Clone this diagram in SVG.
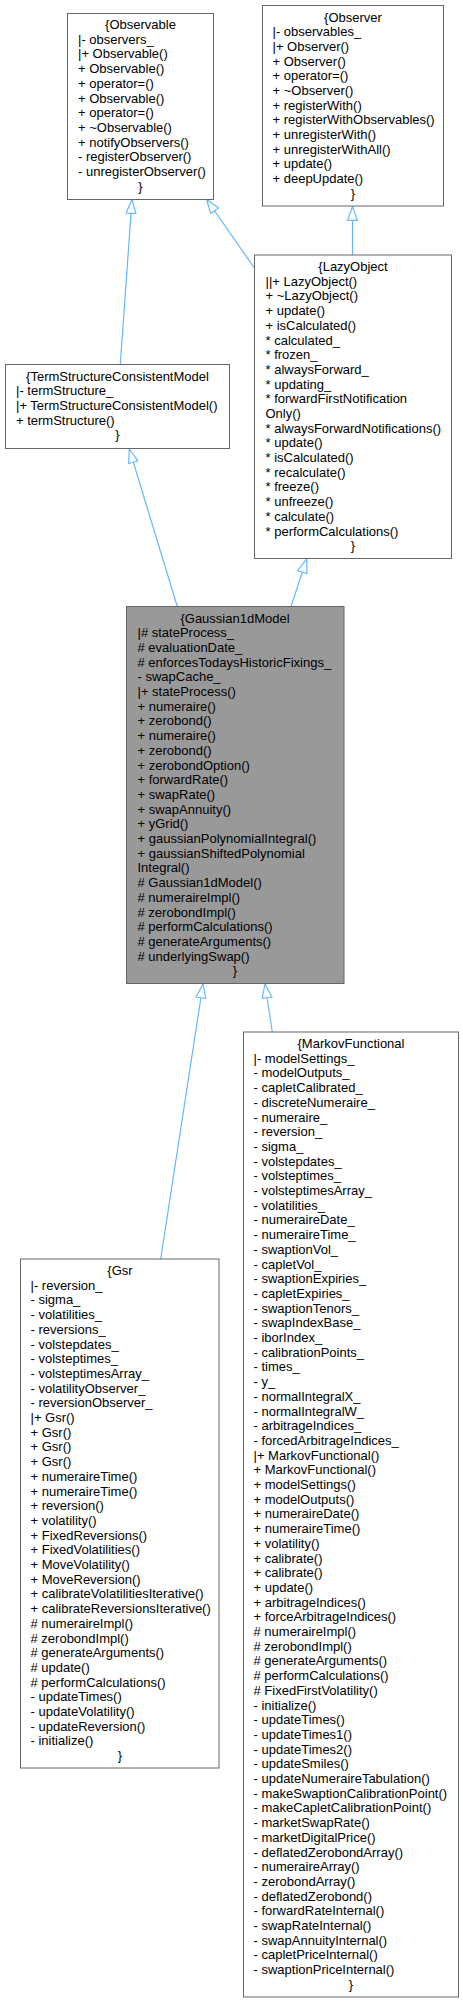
<svg xmlns="http://www.w3.org/2000/svg" width="463" height="2001" viewBox="0 0 463 2001">
<style>
.box{fill:#ffffff;stroke:#666666;stroke-width:1}
.grey{fill:#999999}
text{font-family:"Liberation Sans",Arial,sans-serif;font-size:13px;fill:#000000}
.c{text-anchor:middle}
.edge{stroke:#63B8FF;stroke-width:1.2;fill:none;marker-end:url(#inh)}
</style>
<defs>
<marker id="inh" markerUnits="userSpaceOnUse" markerWidth="16" markerHeight="12" refX="14.5" refY="5.5" orient="auto">
<path d="M0.6,0.6 L14.5,5.5 L0.6,10.4 Z" fill="#ffffff" stroke="#63B8FF" stroke-width="1.2"/>
</marker>
</defs>
<rect width="463" height="2001" fill="#ffffff"/>
<g id="edges">
<line class="edge" x1="120.3" y1="364.5" x2="132" y2="199.5"/>
<line class="edge" x1="254" y1="267.5" x2="206.7" y2="199.5"/>
<line class="edge" x1="352.5" y1="255" x2="352.5" y2="206.5"/>
<line class="edge" x1="177.3" y1="606.5" x2="129.3" y2="449"/>
<line class="edge" x1="291" y1="606.5" x2="306.7" y2="559"/>
<line class="edge" x1="160.7" y1="1259" x2="203" y2="984"/>
<line class="edge" x1="272.3" y1="1032" x2="265" y2="984"/>
</g>
<g id="Observable">
<rect class="box" x="67.5" y="13.5" width="146" height="186"/>
<text class="c" x="140.5" y="29">{Observable</text>
<text x="78" y="29"><tspan x="78" dy="14.7">|- observers_</tspan><tspan x="78" dy="14.7">|+ Observable()</tspan><tspan x="78" dy="14.7">+ Observable()</tspan><tspan x="78" dy="14.7">+ operator=()</tspan><tspan x="78" dy="14.7">+ Observable()</tspan><tspan x="78" dy="14.7">+ operator=()</tspan><tspan x="78" dy="14.7">+ ~Observable()</tspan><tspan x="78" dy="14.7">+ notifyObservers()</tspan><tspan x="78" dy="14.7">- registerObserver()</tspan><tspan x="78" dy="14.7">- unregisterObserver()</tspan></text>
<text class="c" x="140.5" y="190.7">}</text>
</g>
<g id="Observer">
<rect class="box" x="262.5" y="5.5" width="181" height="200.5"/>
<text class="c" x="353" y="21.5">{Observer</text>
<text x="272.5" y="21.5"><tspan x="272.5" dy="14.7">|- observables_</tspan><tspan x="272.5" dy="14.7">|+ Observer()</tspan><tspan x="272.5" dy="14.7">+ Observer()</tspan><tspan x="272.5" dy="14.7">+ operator=()</tspan><tspan x="272.5" dy="14.7">+ ~Observer()</tspan><tspan x="272.5" dy="14.7">+ registerWith()</tspan><tspan x="272.5" dy="14.7">+ registerWithObservables()</tspan><tspan x="272.5" dy="14.7">+ unregisterWith()</tspan><tspan x="272.5" dy="14.7">+ unregisterWithAll()</tspan><tspan x="272.5" dy="14.7">+ update()</tspan><tspan x="272.5" dy="14.7">+ deepUpdate()</tspan></text>
<text class="c" x="353" y="197.9">}</text>
</g>
<g id="TermStructureConsistentModel">
<rect class="box" x="5.5" y="364.5" width="224" height="84"/>
<text class="c" x="117.5" y="380.5">{TermStructureConsistentModel</text>
<text x="16" y="380.5"><tspan x="16" dy="14.7">|- termStructure_</tspan><tspan x="16" dy="14.7">|+ TermStructureConsistentModel()</tspan><tspan x="16" dy="14.7">+ termStructure()</tspan></text>
<text class="c" x="117.5" y="439.3">}</text>
</g>
<g id="LazyObject">
<rect class="box" x="254.5" y="255" width="197" height="303.5"/>
<text class="c" x="353" y="271">{LazyObject</text>
<text x="265.5" y="271"><tspan x="265.5" dy="14.7">||+ LazyObject()</tspan><tspan x="265.5" dy="14.7">+ ~LazyObject()</tspan><tspan x="265.5" dy="14.7">+ update()</tspan><tspan x="265.5" dy="14.7">+ isCalculated()</tspan><tspan x="265.5" dy="14.7">* calculated_</tspan><tspan x="265.5" dy="14.7">* frozen_</tspan><tspan x="265.5" dy="14.7">* alwaysForward_</tspan><tspan x="265.5" dy="14.7">* updating_</tspan><tspan x="265.5" dy="14.7">* forwardFirstNotification</tspan><tspan x="265.5" dy="14.7">Only()</tspan><tspan x="265.5" dy="14.7">* alwaysForwardNotifications()</tspan><tspan x="265.5" dy="14.7">* update()</tspan><tspan x="265.5" dy="14.7">* isCalculated()</tspan><tspan x="265.5" dy="14.7">* recalculate()</tspan><tspan x="265.5" dy="14.7">* freeze()</tspan><tspan x="265.5" dy="14.7">* unfreeze()</tspan><tspan x="265.5" dy="14.7">* calculate()</tspan><tspan x="265.5" dy="14.7">* performCalculations()</tspan></text>
<text class="c" x="353" y="550.3">}</text>
</g>
<g id="Gaussian1dModel">
<rect class="box grey" x="126.5" y="606.5" width="217.5" height="377"/>
<text class="c" x="235" y="622.5">{Gaussian1dModel</text>
<text x="137.5" y="622.5"><tspan x="137.5" dy="14.7">|# stateProcess_</tspan><tspan x="137.5" dy="14.7"># evaluationDate_</tspan><tspan x="137.5" dy="14.7"># enforcesTodaysHistoricFixings_</tspan><tspan x="137.5" dy="14.7">- swapCache_</tspan><tspan x="137.5" dy="14.7">|+ stateProcess()</tspan><tspan x="137.5" dy="14.7">+ numeraire()</tspan><tspan x="137.5" dy="14.7">+ zerobond()</tspan><tspan x="137.5" dy="14.7">+ numeraire()</tspan><tspan x="137.5" dy="14.7">+ zerobond()</tspan><tspan x="137.5" dy="14.7">+ zerobondOption()</tspan><tspan x="137.5" dy="14.7">+ forwardRate()</tspan><tspan x="137.5" dy="14.7">+ swapRate()</tspan><tspan x="137.5" dy="14.7">+ swapAnnuity()</tspan><tspan x="137.5" dy="14.7">+ yGrid()</tspan><tspan x="137.5" dy="14.7">+ gaussianPolynomialIntegral()</tspan><tspan x="137.5" dy="14.7">+ gaussianShiftedPolynomial</tspan><tspan x="137.5" dy="14.7">Integral()</tspan><tspan x="137.5" dy="14.7"># Gaussian1dModel()</tspan><tspan x="137.5" dy="14.7"># numeraireImpl()</tspan><tspan x="137.5" dy="14.7"># zerobondImpl()</tspan><tspan x="137.5" dy="14.7"># performCalculations()</tspan><tspan x="137.5" dy="14.7"># generateArguments()</tspan><tspan x="137.5" dy="14.7"># underlyingSwap()</tspan></text>
<text class="c" x="235" y="975.3">}</text>
</g>
<g id="Gsr">
<rect class="box" x="20.5" y="1259" width="198.5" height="509"/>
<text class="c" x="120" y="1275">{Gsr</text>
<text x="30.5" y="1275"><tspan x="30.5" dy="14.7">|- reversion_</tspan><tspan x="30.5" dy="14.7">- sigma_</tspan><tspan x="30.5" dy="14.7">- volatilities_</tspan><tspan x="30.5" dy="14.7">- reversions_</tspan><tspan x="30.5" dy="14.7">- volstepdates_</tspan><tspan x="30.5" dy="14.7">- volsteptimes_</tspan><tspan x="30.5" dy="14.7">- volsteptimesArray_</tspan><tspan x="30.5" dy="14.7">- volatilityObserver_</tspan><tspan x="30.5" dy="14.7">- reversionObserver_</tspan><tspan x="30.5" dy="14.7">|+ Gsr()</tspan><tspan x="30.5" dy="14.7">+ Gsr()</tspan><tspan x="30.5" dy="14.7">+ Gsr()</tspan><tspan x="30.5" dy="14.7">+ Gsr()</tspan><tspan x="30.5" dy="14.7">+ numeraireTime()</tspan><tspan x="30.5" dy="14.7">+ numeraireTime()</tspan><tspan x="30.5" dy="14.7">+ reversion()</tspan><tspan x="30.5" dy="14.7">+ volatility()</tspan><tspan x="30.5" dy="14.7">+ FixedReversions()</tspan><tspan x="30.5" dy="14.7">+ FixedVolatilities()</tspan><tspan x="30.5" dy="14.7">+ MoveVolatility()</tspan><tspan x="30.5" dy="14.7">+ MoveReversion()</tspan><tspan x="30.5" dy="14.7">+ calibrateVolatilitiesIterative()</tspan><tspan x="30.5" dy="14.7">+ calibrateReversionsIterative()</tspan><tspan x="30.5" dy="14.7"># numeraireImpl()</tspan><tspan x="30.5" dy="14.7"># zerobondImpl()</tspan><tspan x="30.5" dy="14.7"># generateArguments()</tspan><tspan x="30.5" dy="14.7"># update()</tspan><tspan x="30.5" dy="14.7"># performCalculations()</tspan><tspan x="30.5" dy="14.7">- updateTimes()</tspan><tspan x="30.5" dy="14.7">- updateVolatility()</tspan><tspan x="30.5" dy="14.7">- updateReversion()</tspan><tspan x="30.5" dy="14.7">- initialize()</tspan></text>
<text class="c" x="120" y="1760.1">}</text>
</g>
<g id="MarkovFunctional">
<rect class="box" x="243.5" y="1032" width="215" height="965"/>
<text class="c" x="351" y="1048">{MarkovFunctional</text>
<text x="253.5" y="1048"><tspan x="253.5" dy="14.7">|- modelSettings_</tspan><tspan x="253.5" dy="14.7">- modelOutputs_</tspan><tspan x="253.5" dy="14.7">- capletCalibrated_</tspan><tspan x="253.5" dy="14.7">- discreteNumeraire_</tspan><tspan x="253.5" dy="14.7">- numeraire_</tspan><tspan x="253.5" dy="14.7">- reversion_</tspan><tspan x="253.5" dy="14.7">- sigma_</tspan><tspan x="253.5" dy="14.7">- volstepdates_</tspan><tspan x="253.5" dy="14.7">- volsteptimes_</tspan><tspan x="253.5" dy="14.7">- volsteptimesArray_</tspan><tspan x="253.5" dy="14.7">- volatilities_</tspan><tspan x="253.5" dy="14.7">- numeraireDate_</tspan><tspan x="253.5" dy="14.7">- numeraireTime_</tspan><tspan x="253.5" dy="14.7">- swaptionVol_</tspan><tspan x="253.5" dy="14.7">- capletVol_</tspan><tspan x="253.5" dy="14.7">- swaptionExpiries_</tspan><tspan x="253.5" dy="14.7">- capletExpiries_</tspan><tspan x="253.5" dy="14.7">- swaptionTenors_</tspan><tspan x="253.5" dy="14.7">- swapIndexBase_</tspan><tspan x="253.5" dy="14.7">- iborIndex_</tspan><tspan x="253.5" dy="14.7">- calibrationPoints_</tspan><tspan x="253.5" dy="14.7">- times_</tspan><tspan x="253.5" dy="14.7">- y_</tspan><tspan x="253.5" dy="14.7">- normalIntegralX_</tspan><tspan x="253.5" dy="14.7">- normalIntegralW_</tspan><tspan x="253.5" dy="14.7">- arbitrageIndices_</tspan><tspan x="253.5" dy="14.7">- forcedArbitrageIndices_</tspan><tspan x="253.5" dy="14.7">|+ MarkovFunctional()</tspan><tspan x="253.5" dy="14.7">+ MarkovFunctional()</tspan><tspan x="253.5" dy="14.7">+ modelSettings()</tspan><tspan x="253.5" dy="14.7">+ modelOutputs()</tspan><tspan x="253.5" dy="14.7">+ numeraireDate()</tspan><tspan x="253.5" dy="14.7">+ numeraireTime()</tspan><tspan x="253.5" dy="14.7">+ volatility()</tspan><tspan x="253.5" dy="14.7">+ calibrate()</tspan><tspan x="253.5" dy="14.7">+ calibrate()</tspan><tspan x="253.5" dy="14.7">+ update()</tspan><tspan x="253.5" dy="14.7">+ arbitrageIndices()</tspan><tspan x="253.5" dy="14.7">+ forceArbitrageIndices()</tspan><tspan x="253.5" dy="14.7"># numeraireImpl()</tspan><tspan x="253.5" dy="14.7"># zerobondImpl()</tspan><tspan x="253.5" dy="14.7"># generateArguments()</tspan><tspan x="253.5" dy="14.7"># performCalculations()</tspan><tspan x="253.5" dy="14.7"># FixedFirstVolatility()</tspan><tspan x="253.5" dy="14.7">- initialize()</tspan><tspan x="253.5" dy="14.7">- updateTimes()</tspan><tspan x="253.5" dy="14.7">- updateTimes1()</tspan><tspan x="253.5" dy="14.7">- updateTimes2()</tspan><tspan x="253.5" dy="14.7">- updateSmiles()</tspan><tspan x="253.5" dy="14.7">- updateNumeraireTabulation()</tspan><tspan x="253.5" dy="14.7">- makeSwaptionCalibrationPoint()</tspan><tspan x="253.5" dy="14.7">- makeCapletCalibrationPoint()</tspan><tspan x="253.5" dy="14.7">- marketSwapRate()</tspan><tspan x="253.5" dy="14.7">- marketDigitalPrice()</tspan><tspan x="253.5" dy="14.7">- deflatedZerobondArray()</tspan><tspan x="253.5" dy="14.7">- numeraireArray()</tspan><tspan x="253.5" dy="14.7">- zerobondArray()</tspan><tspan x="253.5" dy="14.7">- deflatedZerobond()</tspan><tspan x="253.5" dy="14.7">- forwardRateInternal()</tspan><tspan x="253.5" dy="14.7">- swapRateInternal()</tspan><tspan x="253.5" dy="14.7">- swapAnnuityInternal()</tspan><tspan x="253.5" dy="14.7">- capletPriceInternal()</tspan><tspan x="253.5" dy="14.7">- swaptionPriceInternal()</tspan></text>
<text class="c" x="351" y="1988.8">}</text>
</g>
</svg>
